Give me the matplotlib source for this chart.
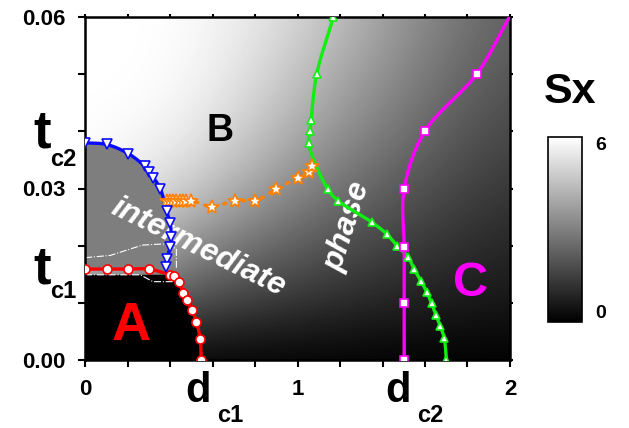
import numpy as np
import matplotlib
matplotlib.use("Agg")
import matplotlib.pyplot as plt

plt.rcParams["font.family"] = ["Liberation Sans", "DejaVu Sans"]
plt.rcParams["font.weight"] = "bold"

# background Sx (0..6) read on a coarse grid, rows = t, cols = d
grid_d = [0.0, 0.5, 1.0, 1.5, 2.0]
grid_t = [0.0, 0.01, 0.02, 0.03, 0.04, 0.05, 0.06]
sx_grid = [
    [0.00, 0.00, 0.00, 0.00, 0.00],
    [3.00, 1.80, 1.20, 0.78, 0.48],
    [5.10, 3.30, 2.16, 1.44, 0.84],
    [6.00, 4.80, 3.12, 2.04, 1.20],
    [6.00, 5.70, 3.96, 2.64, 1.56],
    [6.00, 6.00, 4.56, 3.12, 1.86],
    [6.00, 6.00, 5.10, 3.48, 2.16],
]

blue_d = [0.0, 0.102, 0.204, 0.280, 0.302, 0.322, 0.354, 0.385, 0.401, 0.406, 0.401, 0.385, 0.380]
blue_t = [0.0380, 0.0377, 0.0361, 0.0339, 0.0328, 0.0319, 0.0300, 0.0260, 0.0239, 0.0215, 0.0198, 0.0177, 0.0162]

red_d = [0.0, 0.102, 0.204, 0.302, 0.401, 0.420, 0.443, 0.461, 0.480, 0.503, 0.524, 0.542, 0.547]
red_t = [0.0159, 0.0159, 0.0159, 0.0159, 0.0149, 0.0147, 0.0137, 0.0117, 0.0105, 0.0088, 0.0067, 0.0037, 0.0]

green_d = [1.169, 1.091, 1.064, 1.059, 1.052, 1.142, 1.190, 1.350, 1.421, 1.468, 1.521, 1.549, 1.580,
           1.608, 1.631, 1.651, 1.671, 1.690, 1.701]
green_t = [0.0600, 0.0501, 0.0420, 0.0400, 0.0379, 0.0299, 0.0279, 0.0241, 0.0220, 0.0200, 0.0180, 0.0159,
           0.0139, 0.0119, 0.0099, 0.0079, 0.0060, 0.0039, 0.0]

mag_d = [1.502, 1.502, 1.502, 1.502, 1.599, 1.843, 1.997]
mag_t = [0.0, 0.0099, 0.0198, 0.0299, 0.0400, 0.0500, 0.0600]

star_d = [0.385, 0.400, 0.415, 0.430, 0.445, 0.460, 0.475, 0.500, 0.600, 0.704, 0.802, 0.900, 1.003, 1.053, 1.069]
star_t = [0.0279, 0.0279, 0.0279, 0.0279, 0.0279, 0.0279, 0.0279, 0.0279, 0.0268, 0.0279, 0.0279, 0.0299,
          0.0319, 0.0329, 0.0340]

dash_hi_d = [0.0, 0.12, 0.27, 0.37, 0.43, 0.43]
dash_hi_t = [0.0179, 0.0183, 0.0201, 0.0203, 0.0195, 0.0160]
dash_lo_d = [0.0, 0.26, 0.32, 0.42]
dash_lo_t = [0.0149, 0.0149, 0.0137, 0.0137]


def smooth(x, y, n=16):
    # centripetal Catmull-Rom through the points (in axis-normalised units)
    p = np.column_stack([np.asarray(x) / 2.0, np.asarray(y) / 0.06])
    p = np.vstack([2 * p[0] - p[1], p, 2 * p[-1] - p[-2]])
    out = []
    for i in range(1, len(p) - 2):
        p0, p1, p2, p3 = p[i - 1:i + 3]
        t0 = 0.0
        t1 = t0 + np.linalg.norm(p1 - p0) ** 0.5 + 1e-9
        t2 = t1 + np.linalg.norm(p2 - p1) ** 0.5 + 1e-9
        t3 = t2 + np.linalg.norm(p3 - p2) ** 0.5 + 1e-9
        s = np.linspace(t1, t2, n)[:, None]
        a1 = (t1 - s) / (t1 - t0) * p0 + (s - t0) / (t1 - t0) * p1
        a2 = (t2 - s) / (t2 - t1) * p1 + (s - t1) / (t2 - t1) * p2
        a3 = (t3 - s) / (t3 - t2) * p2 + (s - t2) / (t3 - t2) * p3
        b1 = (t2 - s) / (t2 - t0) * a1 + (s - t0) / (t2 - t0) * a2
        b2 = (t3 - s) / (t3 - t1) * a2 + (s - t1) / (t3 - t1) * a3
        out.append((t2 - s) / (t2 - t1) * b1 + (s - t1) / (t2 - t1) * b2)
    c = np.vstack(out)
    return c[:, 0] * 2.0, c[:, 1] * 0.06


fig = plt.figure(figsize=(6.29, 4.28), dpi=100)
ax = fig.add_axes([85 / 629, 68 / 428, 425 / 629, 343 / 428])

hd = (grid_d[1] - grid_d[0]) / 2
ht = (grid_t[1] - grid_t[0]) / 2
im = ax.imshow(np.array(sx_grid), origin="lower", cmap="gray", vmin=0, vmax=6, aspect="auto",
               interpolation="bicubic",
               extent=[grid_d[0] - hd, grid_d[-1] + hd, grid_t[0] - ht, grid_t[-1] + ht], zorder=0)

bx, by = smooth(blue_d, blue_t)
rx, ry = smooth(red_d, red_t)
gx, gy = smooth(green_d, green_t)
mx, my = smooth(mag_d, mag_t)
sx_, sy_ = smooth(star_d, star_t, 8)

# intermediate phase (gray) and phase A (black)
keep = rx <= bx[-1]
ax.fill(np.r_[bx, rx[keep][::-1]], np.r_[by, ry[keep][::-1]], color="#7e7e7e", lw=0, zorder=1)
ax.fill(np.r_[0, rx, 0], np.r_[np.minimum(ry, 0.0149)[0], np.minimum(ry, 0.0149), 0],
        color="black", lw=0, zorder=1)

ax.plot(dash_hi_d, dash_hi_t, color="white", lw=0.8, ls="-.", zorder=2)
ax.plot(dash_lo_d, dash_lo_t, color="white", lw=0.8, ls="-.", zorder=2)

ax.text(0.533, 0.0196, "intermediate", color="white", fontsize=23, style="italic",
        rotation=-26, ha="center", va="center", zorder=3)
ax.text(1.236, 0.0234, "phase", color="white", fontsize=23, style="italic",
        rotation=72, ha="center", va="center", zorder=3)

ax.plot(sx_, sy_, color="#ff8000", lw=2.5, ls=(0, (0.6, 2.2)), dash_capstyle="round", zorder=4)
ax.plot(star_d, star_t, ls="none", marker="*", ms=10, mfc="white", mec="#ff8000", mew=1.2, zorder=5)

ax.plot(bx, by, color="#0a0aff", lw=2.4, zorder=4)
ax.plot(blue_d, blue_t, ls="none", marker="v", ms=6.5, mfc="white", mec="#0a0aff", mew=1.2, zorder=5)

ax.plot(rx, ry, color="#ff0000", lw=2.4, zorder=4)
ax.plot(red_d, red_t, ls="none", marker="o", ms=6.5, mfc="white", mec="#ff0000", mew=1.2, zorder=5)

ax.plot(gx, gy, color="#11ee11", lw=2.4, zorder=4)
ax.plot(green_d, green_t, ls="none", marker="^", ms=6, mfc="white", mec="#11ee11", mew=1.2, zorder=5)

ax.plot(mx, my, color="#ff00ff", lw=2.4, zorder=4)
ax.plot(mag_d[:-1], mag_t[:-1], ls="none", marker="s", ms=6, mfc="white", mec="#ff00ff", mew=1.2, zorder=5)

ax.text(0.217, 0.0035, "A", color="#ff0000", fontsize=39, ha="center", va="baseline", zorder=6)
ax.text(0.637, 0.0383, "B", color="black", fontsize=27, ha="center", va="baseline", zorder=6)
ax.text(1.816, 0.0112, "C", color="#ff00ff", fontsize=35, ha="center", va="baseline", zorder=6)

ax.set_xlim(0, 2)
ax.set_ylim(0, 0.06)
ax.set_xticks(np.arange(0, 2.01, 0.2))
ax.set_xticklabels(["0", "", "", "", "", "1", "", "", "", "", "2"])
ax.set_yticks(np.arange(0, 0.0601, 0.01))
ax.set_yticklabels(["0.00", "", "", "0.03", "", "", "0.06"])
ax.tick_params(axis="both", direction="out", length=5, width=1.5, labelsize=16, pad=9)
ax.tick_params(top=True, right=True, which="both")
ax.xaxis.set_tick_params(which="major", top=True)
for tk in ax.xaxis.get_major_ticks():
    tk.tick2line.set_markersize(2.5)
for tk in ax.yaxis.get_major_ticks():
    tk.tick2line.set_markersize(2.5)
for s in ax.spines.values():
    s.set_linewidth(1.8)

# t_c / d_c labels
def fig_label(px, py, txt, size):
    fig.text(px / 629, 1 - py / 428, txt, fontsize=size, ha="left", va="baseline")

fig_label(33, 147, "t", 38)
fig_label(50, 166, "c2", 17)
fig_label(33, 283, "t", 38)
fig_label(50, 298, "c1", 17)
fig_label(185, 402, "d", 30)
fig_label(217, 422, "c1", 17)
fig_label(385, 402, "d", 30)
fig_label(417, 422, "c2", 17)

# colour bar
cax = fig.add_axes([548 / 629, 106 / 428, 34 / 629, 185 / 428])
cb = fig.colorbar(im, cax=cax)
cb.set_ticks([])
cb.outline.set_linewidth(1.2)
cax.text(1.38, 1.0, "6", transform=cax.transAxes, fontsize=14, ha="left", va="top")
cax.text(1.38, 0.0, "0", transform=cax.transAxes, fontsize=14, ha="left", va="bottom")
fig.text(544 / 629, 1 - 103 / 428, "Sx", fontsize=31, ha="left", va="baseline")

fig.savefig("out.png", dpi=100)
